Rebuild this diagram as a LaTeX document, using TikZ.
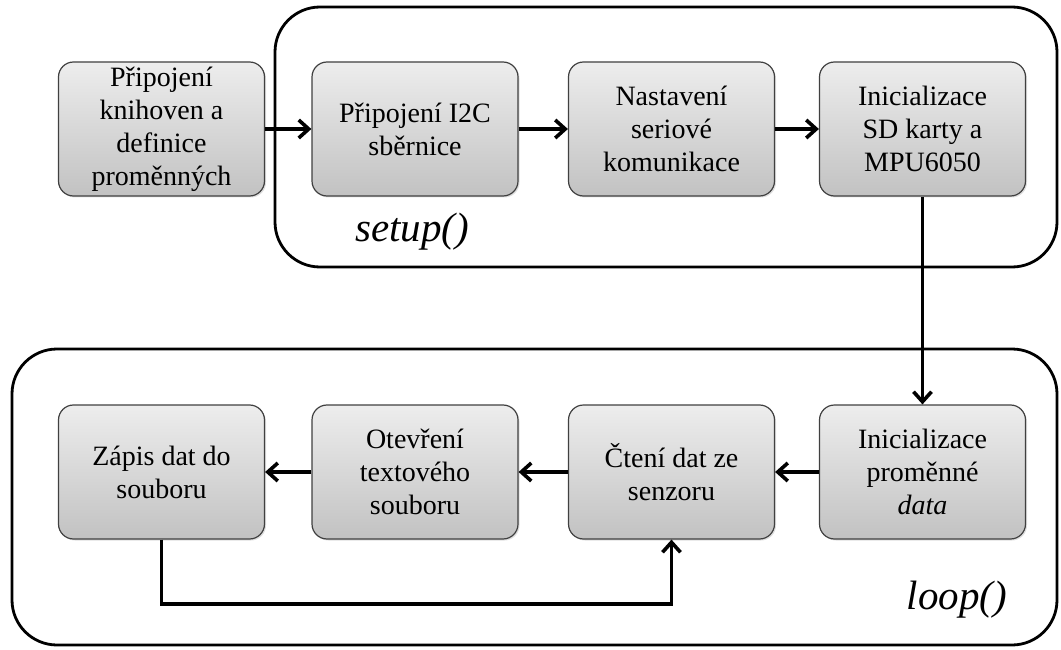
\documentclass[tikz,border=0pt]{standalone}
\usepackage{fontspec}
\setmainfont{Liberation Serif}
\usepackage{xcolor}
\usepackage{tikz}
\usetikzlibrary{arrows.meta,shadows}

\begin{document}
\begin{tikzpicture}[x=1pt, y=-1pt, line width=1.2]
    \tikzstyle{krok}=[draw=black!75, rounded corners=15, minimum width=206, minimum height=134,
                      inner sep=0, align=center, top color=black!7, bottom color=black!24,
                      font=\fontsize{28}{33}\selectfont,
                      drop shadow={opacity=.25, shadow xshift=1.5pt, shadow yshift=-1.5pt}]
    \tikzstyle{ramec}=[line width=2.8, rounded corners=45]
    \tikzstyle{sip}=[line width=3.6, -{Straight Barb[length=10pt, width=18pt, line width=3.6pt]}]
    \tikzstyle{popis}=[font=\fontsize{41}{41}\selectfont\itshape]
    \useasboundingbox (0,0) rectangle (1061,650);
    % ramce setup() a loop()
    \draw[ramec] (275,7) rectangle (1057,267);
    \draw[ramec] (12,349) rectangle (1057,645);
    \node[popis] (setup) at (412,232) {setup()};
    \node[popis] (loop) at (957,600) {loop()};
    % horni rada
    \node[krok] (knih) at (161.5,129) {Připojení\\knihoven a\\definice\\proměnných};
    \node[krok] (i2c) at (415,129) {Připojení I2C\\sběrnice};
    \node[krok] (seri) at (671.5,129) {Nastavení\\seriové\\komunikace};
    \node[krok] (sd) at (922.5,129) {Inicializace\\SD karty a\\MPU6050};
    % dolni rada
    \node[krok] (zapis) at (161.5,472) {Zápis dat do\\souboru};
    \node[krok] (otev) at (415,472) {Otevření\\textového\\souboru};
    \node[krok] (cteni) at (671.5,472) {Čtení dat ze\\senzoru};
    \node[krok] (data) at (922.5,472) {Inicializace\\proměnné\\\textit{data}};
    \coordinate (zpet) at (415,604);
    % sipky
    \draw[sip] (knih) -- (i2c);
    \draw[sip] (i2c) -- (seri);
    \draw[sip] (seri) -- (sd);
    \draw[sip] (sd) -- (data);
    \draw[sip] (data) -- (cteni);
    \draw[sip] (cteni) -- (otev);
    \draw[sip] (otev) -- (zapis);
    \draw[sip] (zapis.south) |- (zpet) -| (cteni.south);
\end{tikzpicture}
\end{document}
